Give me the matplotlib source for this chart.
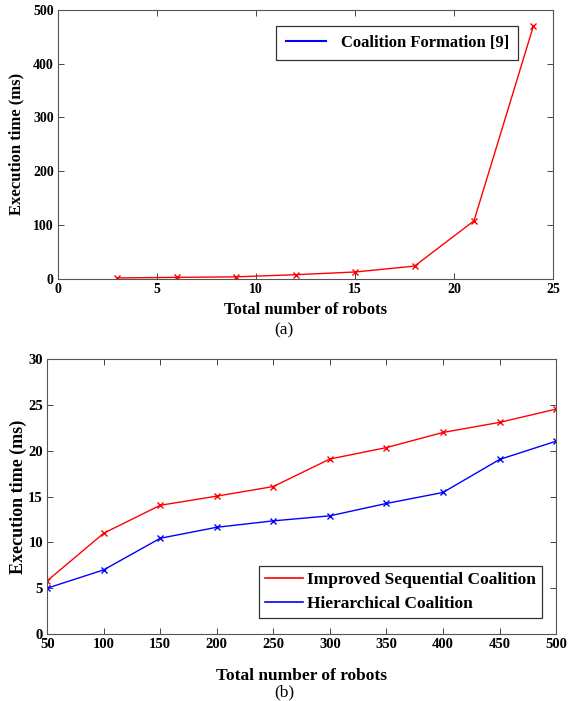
import matplotlib
matplotlib.use("Agg")
import matplotlib.pyplot as plt
from matplotlib.lines import Line2D

# Data (a)
robots_a = [3, 6, 9, 12, 15, 18, 21, 24]
time_a = [2, 3, 4, 8, 13, 24, 108, 470]
legend_a = "Coalition Formation [9]"
xticks_a = [0, 5, 10, 15, 20, 25]
yticks_a = [0, 100, 200, 300, 400, 500]

# Data (b)
robots_b = [50, 100, 150, 200, 250, 300, 350, 400, 450, 500]
improved_seq = [5.8, 11.0, 14.05, 15.05, 16.1, 19.1, 20.35, 22.0, 23.1, 24.55]
hierarchical = [5.0, 7.0, 10.45, 11.65, 12.35, 12.9, 14.25, 15.45, 19.05, 21.05]
label_seq = "Improved Sequential Coalition"
label_hier = "Hierarchical Coalition"
xticks_b = [50, 100, 150, 200, 250, 300, 350, 400, 450, 500]
yticks_b = [0, 5, 10, 15, 20, 25, 30]

plt.rcParams['font.family'] = ['Liberation Serif', 'DejaVu Serif']

fig = plt.figure(figsize=(5.68, 7.01), dpi=100)

def style(ax, size):
    for s in ax.spines.values():
        s.set_color('#555555')
        s.set_linewidth(0.8)
    ax.tick_params(direction='in', top=True, right=True, length=4, width=0.7,
                   color='#444444', labelsize=size, pad=3)
    for t in ax.get_xticklabels() + ax.get_yticklabels():
        t.set_fontweight('bold')

ax1 = fig.add_axes([0.102, 0.602, 0.872, 0.384])
ax1.plot(robots_a, time_a, color='red', marker='x', markersize=4, linewidth=1.0)
ax1.set_xlim(0, 25)
ax1.set_ylim(0, 500)
ax1.set_xticks(xticks_a)
ax1.set_yticks(yticks_a)
style(ax1, 10)
ax1.set_xlabel("Total number of robots", fontsize=12, fontweight='bold', labelpad=4)
ax1.set_ylabel("Execution time (ms)", fontsize=12, fontweight='bold', labelpad=6)
h = [Line2D([0], [0], color='blue', linewidth=1.5)]
leg1 = ax1.legend(h, [legend_a], loc='upper right', bbox_to_anchor=(0.929, 0.94),
                  fancybox=False, framealpha=1, edgecolor='#333333',
                  prop={'weight': 'bold', 'size': 12}, handlelength=2.4,
                  borderpad=0.55, handletextpad=0.9, borderaxespad=0)
leg1.get_frame().set_linewidth(0.9)
fig.text(0.5, 1 - 330 / 701, "(a)", ha='center', va='center', fontsize=12.5)

ax2 = fig.add_axes([0.083, 0.0956, 0.896, 0.392])
ax2.plot(robots_b, improved_seq, color='red', marker='x', markersize=4, linewidth=1.0,
         label=label_seq)
ax2.plot(robots_b, hierarchical, color='blue', marker='x', markersize=4, linewidth=1.0,
         label=label_hier)
ax2.set_xlim(50, 500)
ax2.set_ylim(0, 30)
ax2.set_xticks(xticks_b)
ax2.set_yticks(yticks_b)
style(ax2, 10.5)
ax2.set_xlabel("Total number of robots", fontsize=12.5, fontweight='bold', labelpad=12)
ax2.set_ylabel("Execution time (ms)", fontsize=13, fontweight='bold', labelpad=1)
h2 = [Line2D([0], [0], color='red', linewidth=1.2), Line2D([0], [0], color='blue', linewidth=1.2)]
leg2 = ax2.legend(h2, [label_seq, label_hier], loc='lower right',
                  bbox_to_anchor=(0.972, 0.058),
                  fancybox=False, framealpha=1, edgecolor='#333333',
                  prop={'weight': 'bold', 'size': 12.5}, handlelength=2.2,
                  borderpad=0.35, handletextpad=0.2, labelspacing=0.45,
                  borderaxespad=0)
leg2.get_frame().set_linewidth(0.9)
fig.text(0.5, 1 - 692 / 701, "(b)", ha='center', va='center', fontsize=12.5)

fig.savefig("out.png", dpi=100)
